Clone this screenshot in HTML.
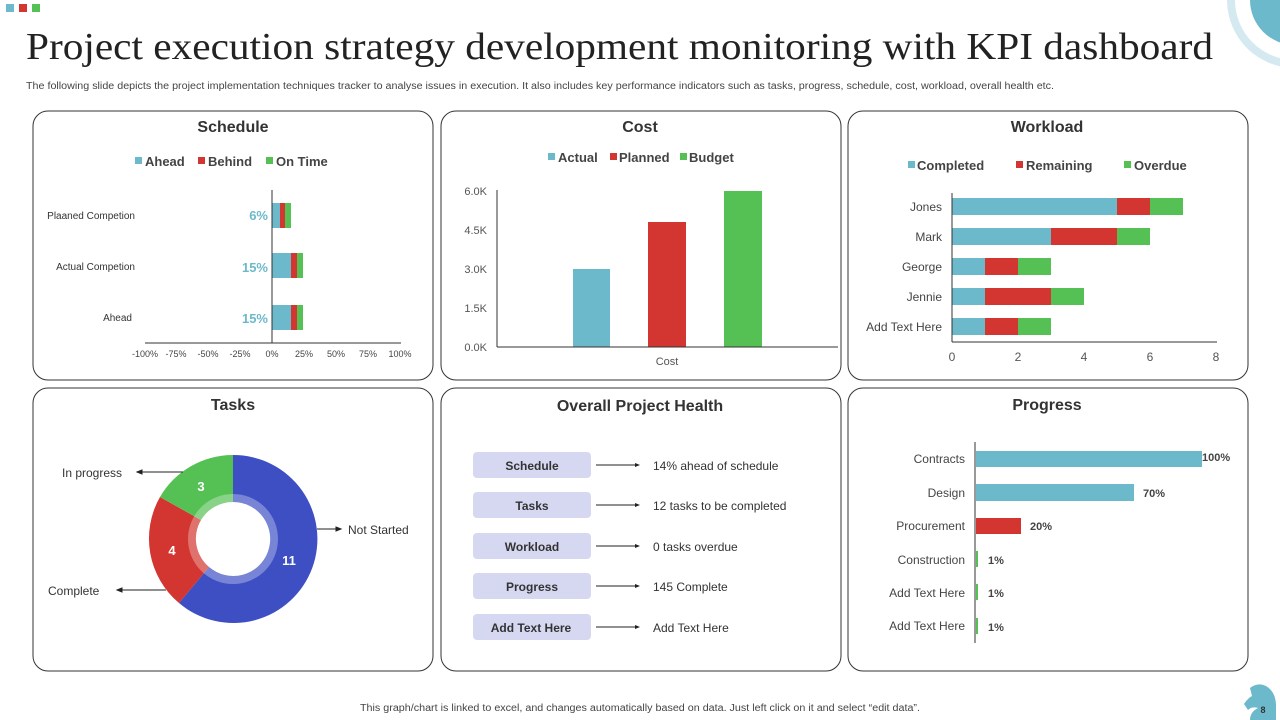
<!DOCTYPE html>
<html><head><meta charset="utf-8"><style>
html,body{margin:0;padding:0;background:#fff;}
svg{display:block;font-family:"Liberation Sans",sans-serif;}
</style></head><body>
<svg width="1280" height="720" viewBox="0 0 1280 720" xmlns="http://www.w3.org/2000/svg">
<rect x="6" y="4" width="8" height="8" fill="#6CB9CB"/>
<rect x="19" y="4" width="8" height="8" fill="#D33530"/>
<rect x="32" y="4" width="8" height="8" fill="#55C154"/>
<circle cx="1295" cy="0" r="68" fill="#D5EAF0"/>
<circle cx="1295" cy="0" r="60" fill="#fff"/>
<circle cx="1295" cy="0" r="45" fill="#6CB9CB"/>
<path d="M1250,688 q8,-6 16,-2 q10,6 10,20 l0,14 l-26,0 q0,-8 8,-12 q-6,-2 -10,2 l-4,-6 q4,-6 8,-8 z" fill="#6CB9CB"/>
<text x="1263" y="713" font-size="9" font-weight="bold" fill="#333" text-anchor="middle">8</text>

<text x="26" y="59" font-family="Liberation Serif,serif" font-size="38" fill="#222" textLength="1187" lengthAdjust="spacingAndGlyphs">Project execution strategy development monitoring with KPI dashboard</text>
<text x="26" y="89" font-size="10" fill="#444" textLength="1028" lengthAdjust="spacingAndGlyphs">The following slide depicts the project implementation  techniques tracker to analyse issues in execution. It also includes key performance indicators such as tasks, progress, schedule, cost, workload, overall health etc.</text>
<text x="640" y="711" font-size="10" fill="#444" text-anchor="middle" textLength="560" lengthAdjust="spacingAndGlyphs">This graph/chart is linked to excel, and changes automatically based on data. Just left click on it and select “edit data”.</text>

<g fill="none" stroke="#333" stroke-width="1">
<rect x="33" y="111" width="400" height="269" rx="15"/>
<rect x="441" y="111" width="400" height="269" rx="15"/>
<rect x="848" y="111" width="400" height="269" rx="15"/>
<rect x="33" y="388" width="400" height="283" rx="15"/>
<rect x="441" y="388" width="400" height="283" rx="15"/>
<rect x="848" y="388" width="400" height="283" rx="15"/>
</g>
<g font-size="16" font-weight="bold" fill="#333" text-anchor="middle">
<text x="233" y="132">Schedule</text>
<text x="640" y="132">Cost</text>
<text x="1047" y="132">Workload</text>
<text x="233" y="410">Tasks</text>
<text x="640" y="411">Overall Project Health</text>
<text x="1047" y="410">Progress</text>
</g>

<!-- Schedule -->
<g font-size="13" font-weight="bold" fill="#444">
<rect x="135" y="157" width="7" height="7" fill="#6CB9CB"/><text x="145" y="166">Ahead</text>
<rect x="198" y="157" width="7" height="7" fill="#D33530"/><text x="208" y="166">Behind</text>
<rect x="266" y="157" width="7" height="7" fill="#55C154"/><text x="276" y="166">On Time</text>
</g>
<rect x="272" y="203" width="8" height="25" fill="#6CB9CB"/><rect x="280" y="203" width="5" height="25" fill="#D33530"/><rect x="285" y="203" width="6" height="25" fill="#55C154"/>
<rect x="272" y="253" width="19" height="25" fill="#6CB9CB"/><rect x="291" y="253" width="6" height="25" fill="#D33530"/><rect x="297" y="253" width="6" height="25" fill="#55C154"/>
<rect x="272" y="305" width="19" height="25" fill="#6CB9CB"/><rect x="291" y="305" width="6" height="25" fill="#D33530"/><rect x="297" y="305" width="6" height="25" fill="#55C154"/>
<line x1="272" y1="190" x2="272" y2="343" stroke="#333"/>
<line x1="145" y1="343" x2="401" y2="343" stroke="#333"/>
<g font-size="13" font-weight="bold" fill="#6CB9CB" text-anchor="end">
<text x="268" y="220">6%</text><text x="268" y="272">15%</text><text x="268" y="323">15%</text>
</g>
<g font-size="10" fill="#333" text-anchor="end">
<text x="135" y="219">Plaaned Competion</text><text x="135" y="270">Actual Competion</text><text x="132" y="321">Ahead</text>
</g>
<g font-size="9" fill="#444" text-anchor="middle">
<text x="145" y="357">-100%</text><text x="176" y="357">-75%</text><text x="208" y="357">-50%</text><text x="240" y="357">-25%</text><text x="272" y="357">0%</text><text x="304" y="357">25%</text><text x="336" y="357">50%</text><text x="368" y="357">75%</text><text x="400" y="357">100%</text>
</g>

<!-- Cost -->
<g font-size="13" font-weight="bold" fill="#444">
<rect x="548" y="153" width="7" height="7" fill="#6CB9CB"/><text x="558" y="162">Actual</text>
<rect x="610" y="153" width="7" height="7" fill="#D33530"/><text x="619" y="162">Planned</text>
<rect x="680" y="153" width="7" height="7" fill="#55C154"/><text x="689" y="162">Budget</text>
</g>
<rect x="573" y="269" width="37" height="78" fill="#6CB9CB"/>
<rect x="648" y="222" width="38" height="125" fill="#D33530"/>
<rect x="724" y="191" width="38" height="156" fill="#55C154"/>
<line x1="497" y1="190" x2="497" y2="347" stroke="#333"/>
<line x1="497" y1="347" x2="838" y2="347" stroke="#333"/>
<g font-size="11" fill="#555" text-anchor="end">
<text x="487" y="195">6.0K</text><text x="487" y="234">4.5K</text><text x="487" y="273">3.0K</text><text x="487" y="312">1.5K</text><text x="487" y="351">0.0K</text>
</g>
<text x="667" y="365" font-size="11" fill="#555" text-anchor="middle">Cost</text>

<!-- Workload -->
<g font-size="13" font-weight="bold" fill="#444">
<rect x="908" y="161" width="7" height="7" fill="#6CB9CB"/><text x="917" y="170">Completed</text>
<rect x="1016" y="161" width="7" height="7" fill="#D33530"/><text x="1026" y="170">Remaining</text>
<rect x="1124" y="161" width="7" height="7" fill="#55C154"/><text x="1134" y="170">Overdue</text>
</g>
<g>
<rect x="952" y="198" width="165" height="17" fill="#6CB9CB"/><rect x="1117" y="198" width="33" height="17" fill="#D33530"/><rect x="1150" y="198" width="33" height="17" fill="#55C154"/>
<rect x="952" y="228" width="99" height="17" fill="#6CB9CB"/><rect x="1051" y="228" width="66" height="17" fill="#D33530"/><rect x="1117" y="228" width="33" height="17" fill="#55C154"/>
<rect x="952" y="258" width="33" height="17" fill="#6CB9CB"/><rect x="985" y="258" width="33" height="17" fill="#D33530"/><rect x="1018" y="258" width="33" height="17" fill="#55C154"/>
<rect x="952" y="288" width="33" height="17" fill="#6CB9CB"/><rect x="985" y="288" width="66" height="17" fill="#D33530"/><rect x="1051" y="288" width="33" height="17" fill="#55C154"/>
<rect x="952" y="318" width="33" height="17" fill="#6CB9CB"/><rect x="985" y="318" width="33" height="17" fill="#D33530"/><rect x="1018" y="318" width="33" height="17" fill="#55C154"/>
</g>
<line x1="952" y1="193" x2="952" y2="342" stroke="#333"/>
<line x1="952" y1="342" x2="1217" y2="342" stroke="#333"/>
<g font-size="12" fill="#444" text-anchor="end">
<text x="942" y="211">Jones</text><text x="942" y="241">Mark</text><text x="942" y="271">George</text><text x="942" y="301">Jennie</text><text x="942" y="331">Add Text Here</text>
</g>
<g font-size="12" fill="#555" text-anchor="middle">
<text x="952" y="361">0</text><text x="1018" y="361">2</text><text x="1084" y="361">4</text><text x="1150" y="361">6</text><text x="1216" y="361">8</text>
</g>

<!-- Tasks donut -->
<path d="M233,455 A84,84 0 1 1 179,603 L209,567 A37,37 0 1 0 233,502 Z" fill="#3E4FC4"/>
<path d="M179,603 A84,84 0 0 1 160,497 L201,520 A37,37 0 0 0 209,567 Z" fill="#D33530"/>
<path d="M160,497 A84,84 0 0 1 233,455 L233,502 A37,37 0 0 0 201,520 Z" fill="#55C154"/>
<circle cx="233" cy="539" r="41" fill="none" stroke="#fff" stroke-opacity="0.3" stroke-width="8"/>
<g font-size="13" font-weight="bold" fill="#fff" text-anchor="middle">
<text x="201" y="491">3</text><text x="172" y="555">4</text><text x="289" y="565">11</text>
</g>
<g stroke="#222" stroke-width="1">
<line x1="183" y1="472" x2="140" y2="472"/><path d="M137,472 l5,-2 v4 z" fill="#222"/>
<line x1="317" y1="529" x2="338" y2="529"/><path d="M341,529 l-5,-2 v4 z" fill="#222"/>
<line x1="166" y1="590" x2="120" y2="590"/><path d="M117,590 l5,-2 v4 z" fill="#222"/>
</g>
<g font-size="12" fill="#333">
<text x="62" y="477">In progress</text><text x="348" y="534">Not Started</text><text x="48" y="595">Complete</text>
</g>

<!-- Health -->
<g>
<rect x="473" y="452" width="118" height="26" rx="4" fill="#D6D8F2"/>
<rect x="473" y="492" width="118" height="26" rx="4" fill="#D6D8F2"/>
<rect x="473" y="533" width="118" height="26" rx="4" fill="#D6D8F2"/>
<rect x="473" y="573" width="118" height="26" rx="4" fill="#D6D8F2"/>
<rect x="473" y="614" width="118" height="26" rx="4" fill="#D6D8F2"/>
</g>
<g font-size="12" font-weight="bold" fill="#333" text-anchor="middle">
<text x="532" y="470">Schedule</text><text x="532" y="510">Tasks</text><text x="532" y="551">Workload</text><text x="532" y="591">Progress</text><text x="531" y="632">Add  Text Here</text>
</g>
<g stroke="#222">
<line x1="596" y1="465" x2="636" y2="465"/><line x1="596" y1="505" x2="636" y2="505"/><line x1="596" y1="546" x2="636" y2="546"/><line x1="596" y1="586" x2="636" y2="586"/><line x1="596" y1="627" x2="636" y2="627"/>
</g>
<g fill="#222">
<path d="M640,465 l-5,-2 v4 z"/><path d="M640,505 l-5,-2 v4 z"/><path d="M640,546 l-5,-2 v4 z"/><path d="M640,586 l-5,-2 v4 z"/><path d="M640,627 l-5,-2 v4 z"/>
</g>
<g font-size="12" fill="#333">
<text x="653" y="470">14% ahead of schedule</text><text x="653" y="510">12 tasks to be completed</text><text x="653" y="551">0 tasks overdue</text><text x="653" y="591">145 Complete</text><text x="653" y="632">Add Text Here</text>
</g>

<!-- Progress -->
<rect x="976" y="451" width="226" height="16" fill="#6CB9CB"/>
<rect x="976" y="484" width="158" height="17" fill="#6CB9CB"/>
<rect x="976" y="518" width="45" height="16" fill="#D33530"/>
<rect x="976" y="551" width="2" height="16" fill="#55C154"/>
<rect x="976" y="584" width="2" height="16" fill="#55C154"/>
<rect x="976" y="618" width="2" height="16" fill="#55C154"/>
<line x1="975" y1="442" x2="975" y2="643" stroke="#333"/>
<g font-size="12" fill="#444" text-anchor="end">
<text x="965" y="463">Contracts</text><text x="965" y="497">Design</text><text x="965" y="530">Procurement</text><text x="965" y="564">Construction</text><text x="965" y="597">Add Text Here</text><text x="965" y="630">Add Text Here</text>
</g>
<g font-size="11" font-weight="bold" fill="#444">
<text x="1202" y="461">100%</text><text x="1143" y="497">70%</text><text x="1030" y="530">20%</text><text x="988" y="564">1%</text><text x="988" y="597">1%</text><text x="988" y="631">1%</text>
</g>
</svg>
</body></html>
